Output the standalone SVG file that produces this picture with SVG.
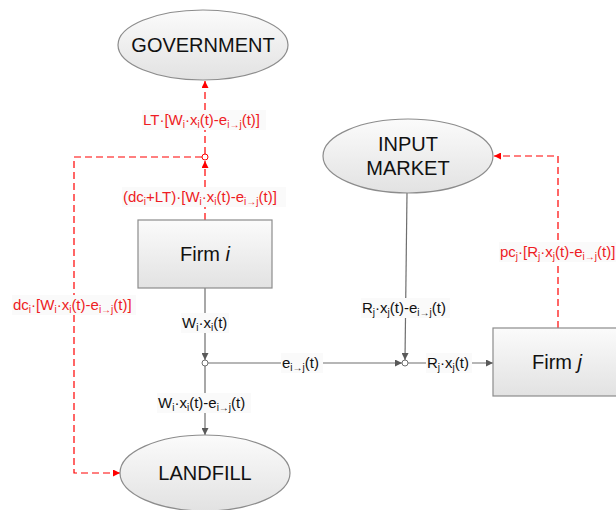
<svg xmlns="http://www.w3.org/2000/svg" width="616" height="510" viewBox="0 0 616 510">
<defs>
<linearGradient id="g" x1="0" y1="0" x2="0" y2="1">
<stop offset="0" stop-color="#fbfbfb"/>
<stop offset="1" stop-color="#e2e2e2"/>
</linearGradient>
<marker id="ag" viewBox="0 0 10 10" refX="10" refY="5" markerWidth="7" markerHeight="7" orient="auto" markerUnits="userSpaceOnUse">
<path d="M0,0 L10,5 L0,10 z" fill="#595959"/>
</marker>
<marker id="ar" viewBox="0 0 10 10" refX="10" refY="5" markerWidth="7" markerHeight="7" orient="auto" markerUnits="userSpaceOnUse">
<path d="M0,0 L10,5 L0,10 z" fill="#ff0000"/>
</marker>
</defs>
<style>
.node{fill:url(#g);stroke:#8c8c8c;stroke-width:1.2}
.nt{font-family:"Liberation Sans",Arial,sans-serif;font-size:20px;fill:#111;text-anchor:middle}
.cg{fill:none;stroke:#6e6e6e;stroke-width:1.2;marker-end:url(#ag)}
.cr{fill:none;stroke:#ff0000;stroke-width:1.2;stroke-dasharray:7,4;marker-end:url(#ar)}
.jg{fill:#fff;stroke:#6e6e6e;stroke-width:1}
.jr{fill:#fff;stroke:#ff0000;stroke-width:1}
.lb{font-family:"Liberation Sans",Arial,sans-serif;font-size:15px;fill:#111}
.lr{font-family:"Liberation Sans",Arial,sans-serif;font-size:15px;fill:#ee1c24}
.bg{fill:#fafafa}
.s{font-size:10px}
</style>
<rect width="616" height="510" fill="#fff"/>

<g id="connectors">
<line class="cr" x1="205" y1="220" x2="205" y2="161"/>
<line class="cr" x1="205" y1="154" x2="205" y2="81"/>
<polyline class="cr" points="202,157 74,157 74,473 120,473"/>
<polyline class="cr" points="558,328 558,156 494,156"/>
<line class="cg" x1="205" y1="288" x2="205" y2="360"/>
<line class="cg" x1="205" y1="366" x2="205" y2="435"/>
<line class="cg" x1="208" y1="363" x2="402" y2="363"/>
<line class="cg" x1="407" y1="193" x2="405" y2="360"/>
<line class="cg" x1="408" y1="363" x2="493" y2="363"/>
<circle class="jr" cx="205" cy="157" r="3"/>
<circle class="jg" cx="205" cy="363" r="3"/>
<circle class="jg" cx="405" cy="363" r="3"/>
</g>

<g id="labels">
<rect class="bg" x="142" y="110" width="124" height="20"/>
<text class="lr" x="143" y="125">LT·[W<tspan class="s" dy="3">i</tspan><tspan dy="-3">·x</tspan><tspan class="s" dy="3">i</tspan><tspan dy="-3">(t)-e</tspan><tspan class="s" dy="3">i→j</tspan><tspan dy="-3">(t)]</tspan></text>

<rect class="bg" x="122" y="187" width="164" height="20"/>
<text class="lr" x="123" y="202">(dc<tspan class="s" dy="3">i</tspan><tspan dy="-3">+LT)·[W</tspan><tspan class="s" dy="3">i</tspan><tspan dy="-3">·x</tspan><tspan class="s" dy="3">i</tspan><tspan dy="-3">(t)-e</tspan><tspan class="s" dy="3">i→j</tspan><tspan dy="-3">(t)]</tspan></text>

<rect class="bg" x="12" y="295" width="124" height="20"/>
<text class="lr" x="13" y="310">dc<tspan class="s" dy="3">i</tspan><tspan dy="-3">·[W</tspan><tspan class="s" dy="3">i</tspan><tspan dy="-3">·x</tspan><tspan class="s" dy="3">i</tspan><tspan dy="-3">(t)-e</tspan><tspan class="s" dy="3">i→j</tspan><tspan dy="-3">(t)]</tspan></text>

<rect class="bg" x="181" y="313" width="48" height="20"/>
<text class="lb" x="182" y="328">W<tspan class="s" dy="3">i</tspan><tspan dy="-3">·x</tspan><tspan class="s" dy="3">i</tspan><tspan dy="-3">(t)</tspan></text>

<rect class="bg" x="281" y="353" width="42" height="20"/>
<text class="lb" x="282" y="368">e<tspan class="s" dy="3">i→j</tspan><tspan dy="-3">(t)</tspan></text>

<rect class="bg" x="157" y="393" width="94" height="20"/>
<text class="lb" x="158" y="408">W<tspan class="s" dy="3">i</tspan><tspan dy="-3">·x</tspan><tspan class="s" dy="3">i</tspan><tspan dy="-3">(t)-e</tspan><tspan class="s" dy="3">i→j</tspan><tspan dy="-3">(t)</tspan></text>

<rect class="bg" x="361" y="298" width="89" height="20"/>
<text class="lb" x="362" y="313">R<tspan class="s" dy="3">j</tspan><tspan dy="-3">·x</tspan><tspan class="s" dy="3">j</tspan><tspan dy="-3">(t)-e</tspan><tspan class="s" dy="3">i→j</tspan><tspan dy="-3">(t)</tspan></text>

<rect class="bg" x="426" y="353" width="46" height="20"/>
<text class="lb" x="427" y="368">R<tspan class="s" dy="3">j</tspan><tspan dy="-3">·x</tspan><tspan class="s" dy="3">j</tspan><tspan dy="-3">(t)</tspan></text>

<rect class="bg" x="499" y="242" width="117" height="20"/>
<text class="lr" x="500" y="257">pc<tspan class="s" dy="3">j</tspan><tspan dy="-3">·[R</tspan><tspan class="s" dy="3">j</tspan><tspan dy="-3">·x</tspan><tspan class="s" dy="3">j</tspan><tspan dy="-3">(t)-e</tspan><tspan class="s" dy="3">i→j</tspan><tspan dy="-3">(t)]</tspan></text>
</g>

<g id="government">
<ellipse class="node" cx="203" cy="45" rx="85" ry="35"/>
<text class="nt" x="203" y="52">GOVERNMENT</text>
</g>
<g id="firm-i">
<rect class="node" x="138" y="220" width="134" height="68"/>
<text class="nt" x="205" y="261">Firm <tspan font-style="italic">i</tspan></text>
</g>
<g id="input-market">
<ellipse class="node" cx="408" cy="156" rx="85" ry="37"/>
<text class="nt" x="408" y="151">INPUT</text>
<text class="nt" x="408" y="175">MARKET</text>
</g>
<g id="firm-j">
<rect class="node" x="493" y="328" width="134" height="68"/>
<text class="nt" x="557" y="369">Firm <tspan font-style="italic">j</tspan></text>
</g>
<g id="landfill">
<ellipse class="node" cx="205" cy="473" rx="85" ry="38"/>
<text class="nt" x="205" y="480">LANDFILL</text>
</g>
</svg>
